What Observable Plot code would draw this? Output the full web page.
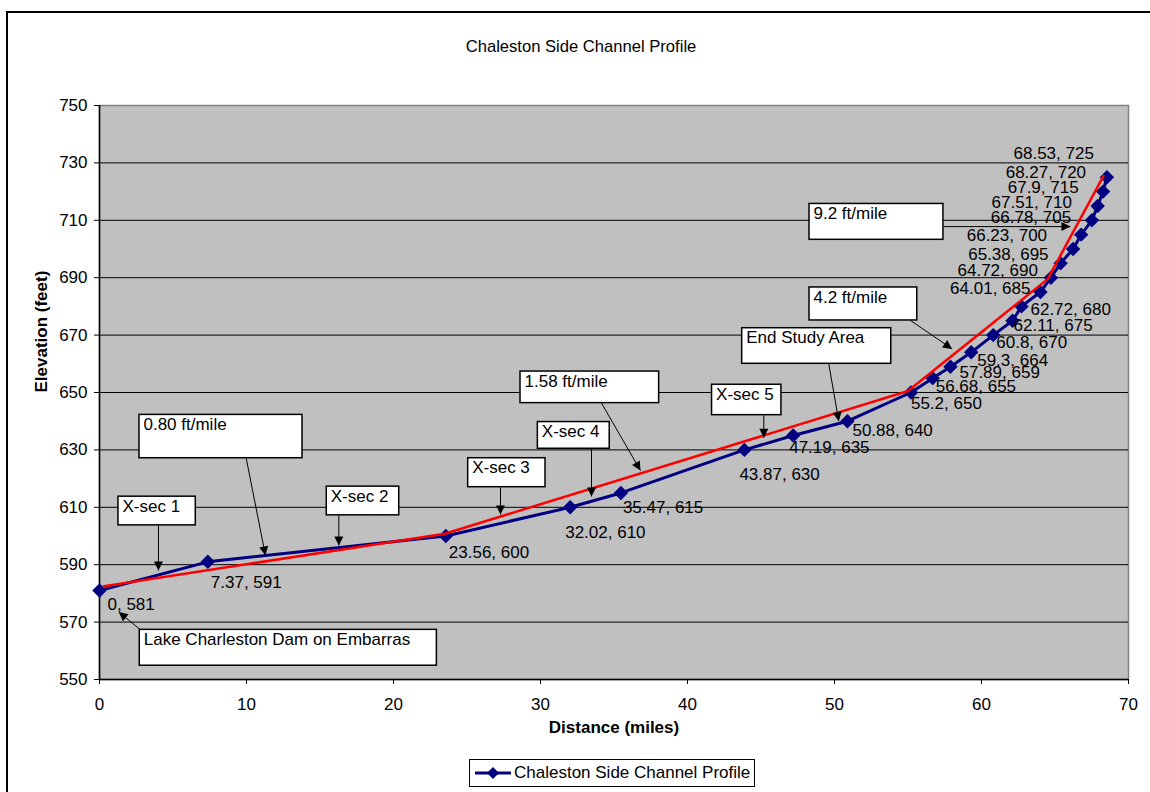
<!DOCTYPE html>
<html>
<head>
<meta charset="utf-8">
<script src="https://cdn.jsdelivr.net/npm/d3@7"></script>
<script src="https://cdn.jsdelivr.net/npm/@observablehq/plot@0.6"></script>
<style>
  html, body { margin: 0; padding: 0; background: white; }
  #wrap { position: relative; width: 1150px; height: 792px; overflow: hidden; font-family: "Liberation Sans", Arial, sans-serif; }
  #border { position: absolute; left: 6px; top: 11px; width: 1200px; height: 900px; border: 2px solid black; box-sizing: border-box; }
  #title { position: absolute; left: 381px; width: 400px; top: 38px; text-align: center; font-size: 16.6px; line-height: 18px; }
  #chart { position: absolute; left: 0; top: 0; }
  #legend { position: absolute; left: 469px; top: 759px; width: 286px; height: 28px; border: 1px solid black; box-sizing: border-box; background: white; }
  #legend span { position: absolute; left: 44px; top: 4px; font-size: 17px; line-height: 18px; white-space: nowrap; }
  #legend svg { position: absolute; left: 3px; top: 0; }
</style>
</head>
<body>
<div id="wrap">
  <div id="border"></div>
  <div id="title">Chaleston Side Channel Profile</div>
  <div id="chart"></div>
  <div id="legend">
    <svg width="40" height="26"><line x1="2" x2="38" y1="13" y2="13" stroke="#000080" stroke-width="3"/><path d="M20,7 L26,13 L20,19 L14,13Z" fill="#000080"/></svg>
    <span>Chaleston Side Channel Profile</span>
  </div>
</div>
<script>
// ---- Data ----
const distance = [0, 7.37, 23.56, 32.02, 35.47, 43.87, 47.19, 50.88, 55.2, 56.68, 57.89, 59.3, 60.8, 62.11, 62.72, 64.01, 64.72, 65.38, 66.23, 66.78, 67.51, 67.9, 68.27, 68.53];
const elevation = [581, 591, 600, 610, 615, 630, 635, 640, 650, 655, 659, 664, 670, 675, 680, 685, 690, 695, 700, 705, 710, 715, 720, 725];

// red gradient (trend) line vertices
const trendDistance = [0.3, 23.5, 55.0, 64.5, 68.3];
const trendElevation = [582.5, 600.8, 650.5, 689.5, 725.5];

const xTicks = [0, 10, 20, 30, 40, 50, 60, 70];
const yTicks = [550, 570, 590, 610, 630, 650, 670, 690, 710, 730, 750];

// callout annotations (data units)
const noteText = ["X-sec 1", "0.80 ft/mile", "X-sec 2", "Lake Charleston Dam on Embarras", "X-sec 3", "X-sec 4", "1.58 ft/mile", "X-sec 5", "End Study Area", "4.2 ft/mile", "9.2 ft/mile"];
const noteLeft   = [1.29, 2.72, 15.46, 2.74, 25.08, 29.82, 28.64, 41.67, 43.72, 48.3, 48.3];
const noteRight  = [6.55, 13.81, 20.39, 22.95, 30.34, 34.71, 38.07, 46.39, 53.86, 55.63, 57.41];
const noteTop    = [613.7, 642.2, 617.2, 567.3, 627.1, 639.7, 657.3, 652.7, 672.4, 686.6, 715.7];
const noteBottom = [603.7, 627.1, 607.2, 554.8, 617.0, 630.4, 646.3, 642.1, 660.0, 675.1, 703.2];
const arrowFromX = [4.01, 9.98, 16.28, 2.79, 27.28, 33.47, 34.15, 45.19, 49.61, 55.17, 57.41];
const arrowFromY = [603.7, 627.1, 607.2, 567.3, 617.0, 630.4, 646.3, 642.1, 660.0, 675.1, 707.8];
const arrowToX   = [4.01, 11.29, 16.28, 1.31, 27.28, 33.47, 36.8, 45.19, 50.29, 58.0, 66.05];
const arrowToY   = [588.0, 593.2, 596.7, 573.5, 607.5, 613.8, 622.8, 634.2, 640.0, 665.2, 707.8];

// ---- Layout (pixel offsets for the data labels) ----
const labelDx = [8, 3, 3, -5, 2, -5, -4, 5, 0, 3, 9, 6, 3, 1, 9, -10, -13, -12, -26, -10, -20, -19, -17, -13];
const labelDy = [14, 21, 17, 25, 14.5, 25, 11.5, 9.5, 11, 8, 6, 8, 7.5, 5, 3, -4, -7, -9, -13, -17, -18, -18.5, -19.5, -24];
const labelEndFrom = 15; // labels from this index are anchored at their end

const profile = distance.map((d, i) => ({x: d, y: elevation[i], label: `${d}, ${elevation[i]}`}));
const trend = trendDistance.map((d, i) => ({x: d, y: trendElevation[i]}));
const notes = noteText.map((t, i) => ({
  text: t, x1: noteLeft[i], x2: noteRight[i], y1: noteTop[i], y2: noteBottom[i],
  ax1: arrowFromX[i], ay1: arrowFromY[i], ax2: arrowToX[i], ay2: arrowToY[i]
}));

const font = "'Liberation Sans', Arial, sans-serif";
const fs = 17;

const labelMarks = profile.map((d, i) => Plot.text([d], {
  x: "x", y: "y", text: "label",
  dx: labelDx[i], dy: labelDy[i],
  textAnchor: i >= labelEndFrom ? "end" : "start",
  fontSize: fs, fill: "black"
}));

const svg = Plot.plot({
  width: 1150,
  height: 792,
  marginLeft: 99,
  marginRight: 22,
  marginTop: 105,
  marginBottom: 113,
  x: {domain: [0, 70]},
  y: {domain: [550, 750]},
  style: {fontFamily: font, fontSize: fs + "px", background: "transparent", color: "black", overflow: "visible"},
  marks: [
    Plot.frame({fill: "#C0C0C0", stroke: "#808080", strokeWidth: 1.5}),
    Plot.gridY(yTicks.filter(t => t > 550 && t < 750), {stroke: "black", strokeOpacity: 1, strokeWidth: 1}),
    Plot.ruleX([0], {stroke: "black", strokeWidth: 1.5}),
    Plot.ruleY([550], {stroke: "black", strokeWidth: 1.5}),
    Plot.axisY(yTicks, {tickSize: 5, tickPadding: 7, label: null, fontSize: fs, stroke: "black", fill: "black"}),
    Plot.axisX(xTicks, {tickSize: 5, tickPadding: 13, label: null, fontSize: fs, stroke: "black", fill: "black"}),
    Plot.text(["Elevation (feet)"], {frameAnchor: "left", dx: -58, rotate: -90, fontWeight: "bold", fontSize: fs, fill: "black"}),
    Plot.text(["Distance (miles)"], {frameAnchor: "bottom", dy: 53, fontWeight: "bold", fontSize: fs, fill: "black"}),
    Plot.line(profile, {x: "x", y: "y", stroke: "#000080", strokeWidth: 3}),
    Plot.dot(profile, {x: "x", y: "y", symbol: "diamond2", r: 6.5, fill: "#000080", stroke: "none"}),
    Plot.line(trend, {x: "x", y: "y", stroke: "#FF0000", strokeWidth: 2.5}),
    ...labelMarks,
    Plot.link(notes, {x1: "ax1", y1: "ay1", x2: "ax2", y2: "ay2", stroke: "black", strokeWidth: 1, markerEnd: "arrow"}),
    Plot.rect(notes, {x1: "x1", x2: "x2", y1: "y1", y2: "y2", fill: "white", stroke: "black", strokeWidth: 1.5}),
    Plot.text(notes, {x: "x1", y: "y1", text: "text", dx: 4, dy: 3, textAnchor: "start", lineAnchor: "top", fontSize: fs, fill: "black"})
  ]
});

// filled arrowheads (Excel style)
svg.querySelectorAll("marker").forEach(m => {
  m.setAttribute("viewBox", "-10 -5 11 10");
  m.setAttribute("markerWidth", "11");
  m.setAttribute("markerHeight", "10");
  const p = m.querySelector("path");
  if (p) {
    p.setAttribute("d", "M-9,-4.5L0,0L-9,4.5Z");
    p.setAttribute("fill", "black");
    p.setAttribute("stroke", "none");
  }
});

document.getElementById("chart").appendChild(svg);
</script>
</body>
</html>
